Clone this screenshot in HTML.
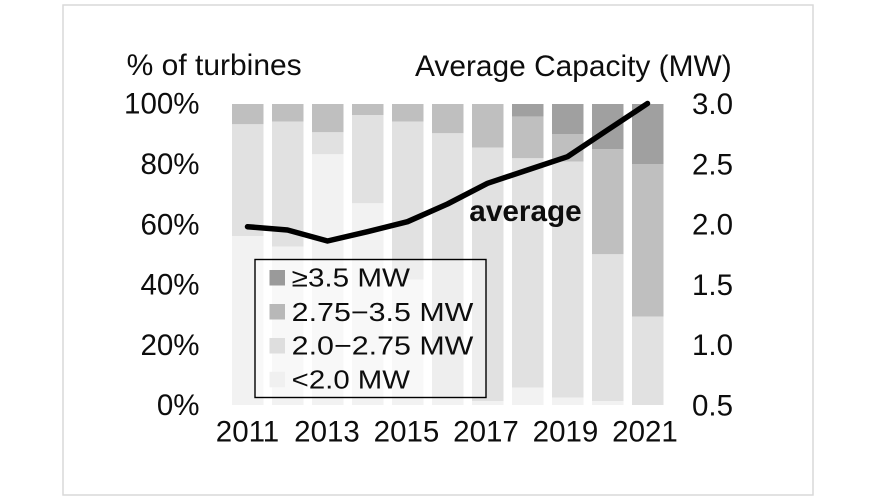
<!DOCTYPE html>
<html>
<head>
<meta charset="utf-8">
<style>
  html, body { margin:0; padding:0; background:#ffffff; }
  body { width:875px; height:500px; overflow:hidden; }
  svg { display:block; }
  text { font-family: "Liberation Sans", Arial, sans-serif; fill:#0d0d0d; }
</style>
</head>
<body>
<svg width="875" height="500" viewBox="0 0 875 500" xmlns="http://www.w3.org/2000/svg">
  <rect x="0" y="0" width="875" height="500" fill="#ffffff"/>
  <!-- outer frame -->
  <rect x="63" y="5" width="750" height="490" fill="none" stroke="#d9d9d9" stroke-width="1.5"/>

  <!-- titles -->
  <text x="126.7" y="75" font-size="29.5" textLength="175" lengthAdjust="spacingAndGlyphs">% of turbines</text>
  <text x="415" y="76" font-size="29.5" textLength="316.7" lengthAdjust="spacingAndGlyphs">Average Capacity (MW)</text>

  <!-- left axis labels -->
  <g font-size="29.5" text-anchor="end">
    <text x="199.5" y="113.5">100%</text>
    <text x="199.5" y="174">80%</text>
    <text x="199.5" y="234.3">60%</text>
    <text x="199.5" y="294.5">40%</text>
    <text x="199.5" y="354.8">20%</text>
    <text x="199.5" y="415">0%</text>
  </g>

  <!-- right axis labels -->
  <g font-size="29.5" text-anchor="start">
    <text x="692" y="114">3.0</text>
    <text x="692" y="174.5">2.5</text>
    <text x="692" y="234.7">2.0</text>
    <text x="692" y="295">1.5</text>
    <text x="692" y="355.2">1.0</text>
    <text x="692" y="415.5">0.5</text>
  </g>

  <!-- bars -->
  <g>
    <!-- 2011 -->
    <rect x="232" y="104" width="31.5" height="20.3" fill="#bfbfbf"/>
    <rect x="232" y="124.3" width="31.5" height="111.7" fill="#e1e1e1"/>
    <rect x="232" y="236" width="31.5" height="169" fill="#f2f2f2"/>
    <!-- 2012 -->
    <rect x="272" y="104" width="31.5" height="17.7" fill="#bfbfbf"/>
    <rect x="272" y="121.7" width="31.5" height="125" fill="#e1e1e1"/>
    <rect x="272" y="246.7" width="31.5" height="158.3" fill="#f2f2f2"/>
    <!-- 2013 -->
    <rect x="312" y="104" width="31.5" height="28.3" fill="#bfbfbf"/>
    <rect x="312" y="132.3" width="31.5" height="22" fill="#e1e1e1"/>
    <rect x="312" y="154.3" width="31.5" height="250.7" fill="#f2f2f2"/>
    <!-- 2014 -->
    <rect x="352" y="104" width="31.5" height="11" fill="#bfbfbf"/>
    <rect x="352" y="115" width="31.5" height="88.3" fill="#e1e1e1"/>
    <rect x="352" y="203.3" width="31.5" height="201.7" fill="#f2f2f2"/>
    <!-- 2015 -->
    <rect x="392" y="104" width="31.5" height="17.7" fill="#bfbfbf"/>
    <rect x="392" y="121.7" width="31.5" height="157.8" fill="#e1e1e1"/>
    <rect x="392" y="279.5" width="31.5" height="125.5" fill="#f2f2f2"/>
    <!-- 2016 -->
    <rect x="432" y="104" width="31.5" height="29.3" fill="#bfbfbf"/>
    <rect x="432" y="133.3" width="31.5" height="264.2" fill="#e1e1e1"/>
    <rect x="432" y="397.5" width="31.5" height="7.5" fill="#f2f2f2"/>
    <!-- 2017 -->
    <rect x="472" y="104" width="31.5" height="43.7" fill="#bfbfbf"/>
    <rect x="472" y="147.7" width="31.5" height="253.3" fill="#e1e1e1"/>
    <rect x="472" y="401" width="31.5" height="4" fill="#f2f2f2"/>
    <!-- 2018 -->
    <rect x="512" y="104" width="31.5" height="12.7" fill="#a0a0a0"/>
    <rect x="512" y="116.7" width="31.5" height="41.6" fill="#bfbfbf"/>
    <rect x="512" y="158.3" width="31.5" height="229.2" fill="#e1e1e1"/>
    <rect x="512" y="387.5" width="31.5" height="17.5" fill="#f2f2f2"/>
    <!-- 2019 -->
    <rect x="552" y="104" width="31.5" height="30" fill="#a0a0a0"/>
    <rect x="552" y="134" width="31.5" height="27.7" fill="#bfbfbf"/>
    <rect x="552" y="161.7" width="31.5" height="235.8" fill="#e1e1e1"/>
    <rect x="552" y="397.5" width="31.5" height="7.5" fill="#f2f2f2"/>
    <!-- 2020 -->
    <rect x="592" y="104" width="31.5" height="45.3" fill="#a0a0a0"/>
    <rect x="592" y="149.3" width="31.5" height="105" fill="#bfbfbf"/>
    <rect x="592" y="254.3" width="31.5" height="146.7" fill="#e1e1e1"/>
    <rect x="592" y="401" width="31.5" height="4" fill="#f2f2f2"/>
    <!-- 2021 -->
    <rect x="632" y="104" width="31.5" height="60" fill="#a0a0a0"/>
    <rect x="632" y="164" width="31.5" height="152.7" fill="#bfbfbf"/>
    <rect x="632" y="316.7" width="31.5" height="88.3" fill="#e1e1e1"/>
  </g>

  <!-- x-axis labels -->
  <g font-size="29.5" text-anchor="middle">
    <text x="247.5" y="441.7">2011</text>
    <text x="327" y="441.7">2013</text>
    <text x="406.5" y="441.7">2015</text>
    <text x="486" y="441.7">2017</text>
    <text x="565.5" y="441.7">2019</text>
    <text x="645" y="441.7">2021</text>
  </g>

  <!-- average line -->
  <polyline fill="none" stroke="#000000" stroke-width="5.5" stroke-linejoin="round" stroke-linecap="round"
    points="247.5,226.7 287.5,230 327.5,241 367.5,231.7 407.5,221.7 447.5,204 487.5,183.3 527.5,170 567.5,156.7 607.5,130 647.5,103.5"/>
  <text x="469.3" y="221" font-size="30" font-weight="bold" textLength="112.4" lengthAdjust="spacingAndGlyphs">average</text>

  <!-- legend -->
  <rect x="255" y="259.5" width="231" height="138" fill="#ffffff" fill-opacity="0.45" stroke="#000000" stroke-width="1.4"/>
  <rect x="269.5" y="270" width="15.5" height="15.5" fill="#9a9a9a"/>
  <rect x="269.5" y="304" width="15.5" height="15.5" fill="#b8b8b8"/>
  <rect x="269.5" y="338" width="15.5" height="15.5" fill="#dedede"/>
  <rect x="269.5" y="371.8" width="15.5" height="15.5" fill="#f0f0f0"/>
  <g font-size="26">
    <text x="291.7" y="286.7" textLength="118.3" lengthAdjust="spacingAndGlyphs">≥3.5 MW</text>
    <text x="291.7" y="320.8" textLength="181.7" lengthAdjust="spacingAndGlyphs">2.75−3.5 MW</text>
    <text x="291.7" y="354.7" textLength="181.7" lengthAdjust="spacingAndGlyphs">2.0−2.75 MW</text>
    <text x="291.7" y="388.4" textLength="118.3" lengthAdjust="spacingAndGlyphs">&lt;2.0 MW</text>
  </g>
</svg>
</body>
</html>
